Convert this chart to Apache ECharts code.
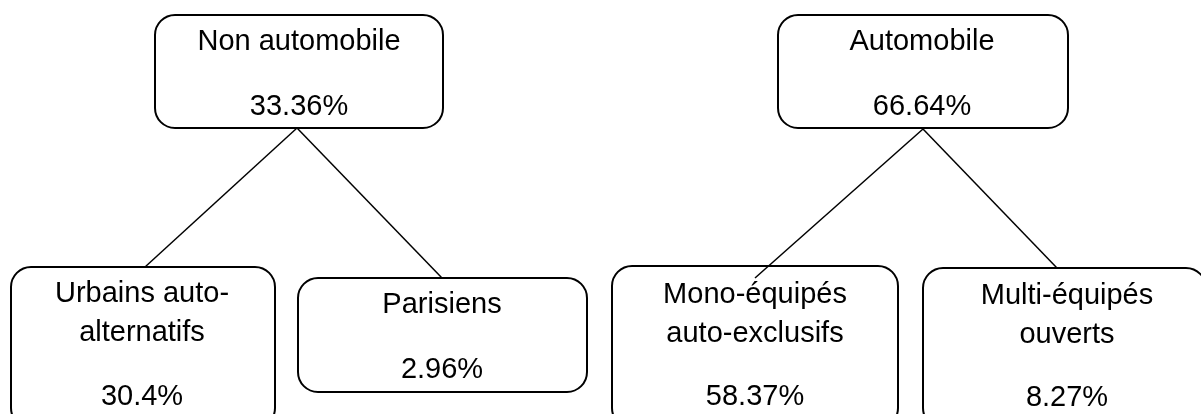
<!DOCTYPE html>
<html>
<head>
<meta charset="utf-8">
<script src="https://cdn.jsdelivr.net/npm/echarts@6/dist/echarts.min.js"></script>
<style>
  html, body { margin: 0; padding: 0; background: #fff; }
  #tree { width: 1201px; height: 414px; }
</style>
</head>
<body>
<div id="tree"></div>
<script>
// noeuds de l'arbre
const nodeNames = ['Non automobile', 'Automobile', 'Urbains auto-\nalternatifs', 'Parisiens', 'Mono-équipés\nauto-exclusifs', 'Multi-équipés\nouverts'];
const nodeShares = [33.36, 66.64, 30.4, 2.96, 58.37, 8.27];
const parentOf = [-1, -1, 0, 0, 1, 1];

// mise en page (pixels de la zone de dessin)
const boxLeft = [155, 778, 11, 298, 612, 923];
const boxTop = [15, 15, 267, 278, 266, 268];
const boxRight = [443, 1068, 275, 587, 898, 1206];
const boxBottom = [128, 128, 428, 392, 428, 428];
const labelX = [299, 922, 142, 442, 755, 1067];
const nameY = [42, 42, 313, 305, 314, 315];
const shareY = [107, 107, 397, 370, 397, 398];
const parentAnchor = [[297, 128], [923, 129]];
const childAnchor = [null, null, [145, 267], [442, 278], [755, 278], [1057, 268]];

const fontFamily = '"Liberation Sans", Arial, sans-serif';

const boxData = nodeNames.map((n, i) => [boxLeft[i], boxTop[i], boxRight[i], boxBottom[i]]);

const edgeData = [];
parentOf.forEach((p, i) => {
  if (p >= 0) {
    edgeData.push({ coords: [parentAnchor[p], childAnchor[i]] });
  }
});

function renderBox(params, api) {
  const i = params.dataIndex;
  const p0 = api.coord([api.value(0), api.value(1)]);
  const p1 = api.coord([api.value(2), api.value(3)]);
  const cx = api.coord([labelX[i], nameY[i]]);
  const cv = api.coord([labelX[i], shareY[i]]);
  return {
    type: 'group',
    children: [
      {
        type: 'rect',
        shape: { x: p0[0], y: p0[1], width: p1[0] - p0[0], height: p1[1] - p0[1], r: 20 },
        style: { fill: 'none', stroke: '#000', lineWidth: 2 }
      },
      {
        type: 'text',
        x: cx[0],
        y: cx[1],
        style: {
          text: nodeNames[i],
          fontSize: 29,
          fontFamily: fontFamily,
          fill: '#000',
          align: 'center',
          verticalAlign: 'middle',
          lineHeight: 39
        }
      },
      {
        type: 'text',
        x: cv[0],
        y: cv[1],
        style: {
          text: nodeShares[i] + '%',
          fontSize: 29,
          fontFamily: fontFamily,
          fill: '#000',
          align: 'center',
          verticalAlign: 'middle'
        }
      }
    ]
  };
}

const option = {
  animation: false,
  backgroundColor: '#fff',
  grid: { left: 0, right: 0, top: 0, bottom: 0 },
  xAxis: { type: 'value', min: 0, max: 1201, show: false },
  yAxis: { type: 'value', min: 0, max: 414, inverse: true, show: false },
  series: [
    {
      type: 'custom',
      coordinateSystem: 'cartesian2d',
      clip: false,
      renderItem: renderBox,
      data: boxData
    },
    {
      type: 'lines',
      coordinateSystem: 'cartesian2d',
      silent: true,
      lineStyle: { color: '#000', width: 1.5, opacity: 1 },
      data: edgeData
    }
  ]
};

const chart = echarts.init(document.getElementById('tree'));
chart.setOption(option);
</script>
</body>
</html>
